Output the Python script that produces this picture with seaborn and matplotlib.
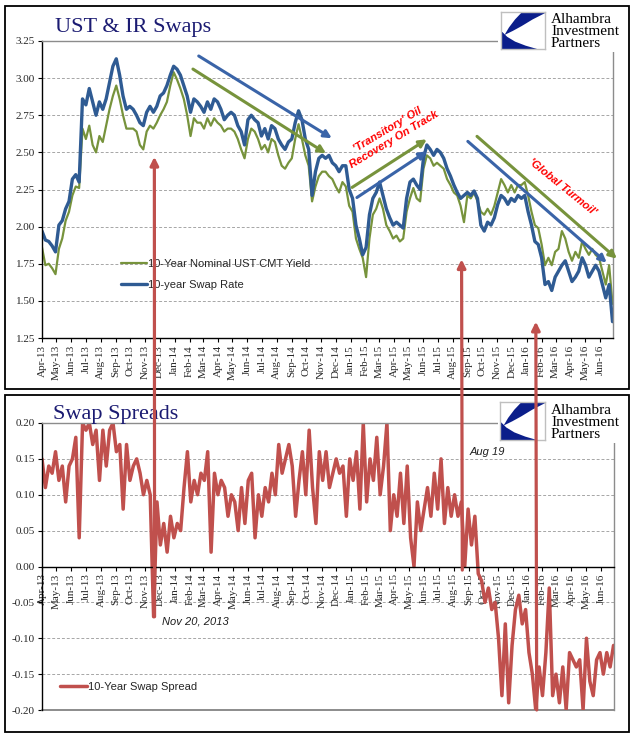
import numpy as np
import pandas as pd
import matplotlib
matplotlib.use("Agg")
import matplotlib.pyplot as plt
import matplotlib.dates as mdates
from matplotlib.patches import Rectangle, Polygon, ConnectionPatch
from matplotlib.ticker import FormatStrFormatter
import seaborn as sns

# ---------------- data (weekly readings, starting 2013-04-01) ----------------
start_date = "2013-04-01"

ust_10y = [
    1.86, 1.74, 1.75, 1.72, 1.68, 1.85, 1.92, 2.04, 2.10, 2.21,
    2.27, 2.26, 2.66, 2.59, 2.68, 2.55, 2.50, 2.61, 2.57, 2.68,
    2.79, 2.88, 2.95, 2.86, 2.75, 2.66, 2.66, 2.66, 2.64, 2.55,
    2.52, 2.64, 2.68, 2.66, 2.70, 2.75, 2.79, 2.84, 2.95, 3.04,
    2.99, 2.93, 2.86, 2.75, 2.61, 2.73, 2.70, 2.70, 2.66, 2.73,
    2.68, 2.73, 2.70, 2.68, 2.64, 2.66, 2.66, 2.64, 2.59, 2.52,
    2.46, 2.59, 2.66, 2.64, 2.59, 2.52, 2.55, 2.50, 2.59, 2.57,
    2.48, 2.41, 2.39, 2.43, 2.46, 2.59, 2.69, 2.59, 2.48, 2.41,
    2.17, 2.27, 2.34, 2.37, 2.37, 2.34, 2.32, 2.27, 2.23, 2.30,
    2.27, 2.14, 2.10, 1.92, 1.85, 1.79, 1.66, 1.92, 2.08, 2.12,
    2.19, 2.12, 2.01, 1.97, 1.92, 1.94, 1.90, 1.92, 2.10, 2.19,
    2.26, 2.19, 2.17, 2.39, 2.48, 2.46, 2.41, 2.43, 2.41, 2.39,
    2.32, 2.28, 2.23, 2.21, 2.14, 2.03, 2.21, 2.19, 2.23, 2.17,
    2.10, 2.08, 2.12, 2.08, 2.14, 2.23, 2.32, 2.28, 2.23, 2.28,
    2.23, 2.28, 2.28, 2.30, 2.21, 2.10, 2.01, 1.99, 1.88, 1.74,
    1.79, 1.74, 1.83, 1.85, 1.97, 1.92, 1.83, 1.77, 1.83, 1.79,
    1.90, 1.85, 1.81, 1.85, 1.81, 1.79, 1.70, 1.61, 1.74, 1.48,
]

swap_10y = [
    1.97, 1.91, 1.90, 1.87, 1.83, 2.01, 2.04, 2.12, 2.17, 2.32,
    2.35, 2.30, 2.86, 2.82, 2.93, 2.84, 2.75, 2.84, 2.79, 2.86,
    2.97, 3.08, 3.13, 3.02, 2.88, 2.79, 2.81, 2.79, 2.75, 2.70,
    2.68, 2.77, 2.81, 2.77, 2.81, 2.88, 2.90, 2.95, 3.02, 3.08,
    3.06, 3.02, 2.95, 2.88, 2.77, 2.86, 2.84, 2.81, 2.77, 2.84,
    2.79, 2.86, 2.84, 2.79, 2.72, 2.75, 2.77, 2.75, 2.68, 2.64,
    2.55, 2.72, 2.75, 2.72, 2.70, 2.61, 2.66, 2.59, 2.68, 2.66,
    2.59, 2.55, 2.52, 2.57, 2.59, 2.70, 2.78, 2.72, 2.59, 2.52,
    2.21, 2.37, 2.46, 2.48, 2.46, 2.48, 2.43, 2.41, 2.37, 2.41,
    2.41, 2.25, 2.19, 2.01, 1.92, 1.81, 1.86, 2.08, 2.19, 2.23,
    2.30, 2.21, 2.12, 2.06, 2.01, 2.03, 2.01, 1.99, 2.19, 2.30,
    2.32, 2.28, 2.25, 2.46, 2.55, 2.52, 2.48, 2.52, 2.50, 2.46,
    2.39, 2.34, 2.28, 2.23, 2.19, 2.21, 2.23, 2.21, 2.24, 2.19,
    2.01, 1.97, 2.03, 2.01, 2.06, 2.15, 2.21, 2.19, 2.15, 2.19,
    2.17, 2.21, 2.19, 2.21, 2.10, 2.01, 1.90, 1.88, 1.79, 1.61,
    1.63, 1.57, 1.66, 1.70, 1.74, 1.77, 1.70, 1.63, 1.66, 1.70,
    1.79, 1.74, 1.66, 1.70, 1.74, 1.70, 1.61, 1.52, 1.61, 1.36,
]

swap_spread = [
    0.15, 0.11, 0.14, 0.13, 0.16, 0.12, 0.14, 0.09, 0.14, 0.15,
    0.18, 0.04, 0.20, 0.19, 0.20, 0.17, 0.19, 0.12, 0.19, 0.14,
    0.19, 0.20, 0.16, 0.17, 0.08, 0.17, 0.12, 0.14, 0.15, 0.13,
    0.10, 0.12, 0.10, -0.07, 0.09, 0.03, 0.06, 0.02, 0.07, 0.04,
    0.06, 0.05, 0.11, 0.16, 0.09, 0.12, 0.10, 0.13, 0.12, 0.16,
    0.02, 0.13, 0.10, 0.12, 0.11, 0.07, 0.10, 0.09, 0.05, 0.11,
    0.06, 0.12, 0.13, 0.04, 0.10, 0.07, 0.11, 0.09, 0.13, 0.10,
    0.17, 0.13, 0.15, 0.17, 0.14, 0.07, 0.12, 0.16, 0.10, 0.19,
    0.11, 0.06, 0.16, 0.12, 0.16, 0.11, 0.13, 0.15, 0.13, 0.14,
    0.07, 0.15, 0.12, 0.16, 0.08, 0.20, 0.09, 0.15, 0.12, 0.18,
    0.10, 0.14, 0.20, 0.05, 0.10, 0.07, 0.13, 0.06, 0.14, 0.04,
    0.00, 0.09, 0.05, 0.08, 0.11, 0.07, 0.13, 0.08, 0.15, 0.06,
    0.11, 0.07, 0.10, 0.07, 0.09, 0.00, 0.08, 0.03, 0.07, -0.01,
    -0.02, -0.05, -0.03, -0.06, -0.05, -0.10, -0.18, -0.08, -0.19, -0.11,
    -0.06, -0.04, -0.08, -0.06, -0.12, -0.15, -0.20, -0.14, -0.18, -0.12,
    -0.03, -0.18, -0.15, -0.19, -0.14, -0.20, -0.12, -0.13, -0.14, -0.13,
    -0.20, -0.10, -0.16, -0.18, -0.13, -0.12, -0.15, -0.12, -0.14, -0.11,
]

series_labels = ["10-Year Nominal UST CMT Yield", "10-year Swap Rate"]
spread_label = "10-Year Swap Spread"
top_title = "UST & IR Swaps"
bottom_title = "Swap Spreads"
logo_lines = ["Alhambra", "Investment", "Partners"]
top_yticks = [1.25, 1.50, 1.75, 2.00, 2.25, 2.50, 2.75, 3.00, 3.25]
bottom_yticks = [-0.20, -0.15, -0.10, -0.05, 0.00, 0.05, 0.10, 0.15, 0.20]

# ---------------- styling ----------------
GREEN = "#77933C"
BLUE = "#2F5B93"
ARROW_BLUE = "#3A64A8"
RED = "#C0504D"
NAVY = "#1B1B72"
GRID = "#A6A6A6"
BORDER = "#8C8C8C"
LOGO_BLUE = "#0B1E8A"

sns.set_style("white")
plt.rcParams["font.family"] = ["Liberation Serif", "DejaVu Serif"]

W, H = 644, 741
fig = plt.figure(figsize=(W / 100, H / 100), dpi=100)
fig.patch.set_facecolor("white")


def fx(x):
    return x / W


def fy(y):
    return 1 - y / H


dates = pd.date_range(start_date, periods=len(ust_10y), freq="7D")
df = pd.DataFrame({"date": dates, "ust": ust_10y, "swap": swap_10y, "spread": swap_spread})

ax1 = fig.add_axes([fx(42), fy(338), (613 - 42) / W, (338 - 41) / H])
ax2 = fig.add_axes([fx(42), fy(710), (614 - 42) / W, (710 - 423) / H])

sns.lineplot(data=df, x="date", y="ust", ax=ax1, color=GREEN, linewidth=1.6, label=series_labels[0])
sns.lineplot(data=df, x="date", y="swap", ax=ax1, color=BLUE, linewidth=2.4, label=series_labels[1])
sns.lineplot(data=df, x="date", y="spread", ax=ax2, color=RED, linewidth=2.5, label=spread_label)

xlim = (pd.Timestamp("2013-04-01"), pd.Timestamp("2016-06-28"))

for ax in (ax1, ax2):
    ax.set_xlim(*xlim)
    ax.set_xlabel("")
    ax.set_ylabel("")
    ax.xaxis.set_major_locator(mdates.MonthLocator())
    ax.xaxis.set_major_formatter(mdates.DateFormatter("%b-%y"))
    ax.yaxis.set_major_formatter(FormatStrFormatter("%.2f"))
    ax.tick_params(axis="both", direction="out", length=3, width=0.8, color="black",
                   labelsize=8, pad=2, bottom=True, left=True)
    ax.tick_params(axis="x", labelrotation=90)
    ax.grid(False)
    ax.spines["left"].set_color("black")
    ax.spines["left"].set_linewidth(1.0)
    ax.spines["bottom"].set_color("black")
    ax.spines["bottom"].set_linewidth(1.0)
    for s in ("top", "right"):
        ax.spines[s].set_visible(True)
        ax.spines[s].set_color(BORDER)
        ax.spines[s].set_linewidth(1.0)

ax1.set_ylim(1.25, 3.25)
ax1.set_yticks(top_yticks)
for v in top_yticks[1:-1]:
    ax1.axhline(v, color=GRID, lw=0.7, ls=(0, (3, 2)), zorder=0)

ax2.set_ylim(-0.20, 0.20)
ax2.set_yticks(bottom_yticks)
for v in bottom_yticks[1:-1]:
    if v != 0:
        ax2.axhline(v, color=GRID, lw=0.7, ls=(0, (3, 2)), zorder=0)
ax2.spines["bottom"].set_position(("data", 0))
ax2.axhline(-0.20, color=BORDER, lw=1.4, clip_on=False, zorder=1)

# legends
ax1.legend(loc="upper left", bbox_to_anchor=((121 - 42) / 571, (338 - 259) / 297),
           frameon=False, prop={"family": "Liberation Sans", "size": 8},
           handlelength=2.3, handletextpad=0.1, labelspacing=0.95,
           borderpad=0, borderaxespad=0)
ax2.legend(loc="upper left", bbox_to_anchor=((60 - 42) / 572, (710 - 682) / 287),
           frameon=False, prop={"family": "Liberation Sans", "size": 8},
           handlelength=2.4, handletextpad=0.1, borderpad=0, borderaxespad=0)

# trend arrows in top panel
trend_arrows = [
    ("2014-02-20", 3.149, "2014-11-23", 2.595, ARROW_BLUE),
    ("2014-02-08", 3.061, "2014-11-11", 2.493, GREEN),
    ("2015-01-04", 2.264, "2015-06-08", 2.588, GREEN),
    ("2015-01-14", 2.196, "2015-06-08", 2.507, ARROW_BLUE),
    ("2015-09-01", 2.574, "2016-06-15", 1.757, ARROW_BLUE),
    ("2015-09-20", 2.608, "2016-07-06", 1.784, GREEN),
]
for d0, v0, d1, v1, c in trend_arrows:
    ax1.annotate("", xy=(mdates.date2num(pd.Timestamp(d1)), v1),
                 xytext=(mdates.date2num(pd.Timestamp(d0)), v0),
                 arrowprops=dict(arrowstyle="-|>", lw=2.2, color=c, mutation_scale=11,
                                 shrinkA=0, shrinkB=0),
                 annotation_clip=False, zorder=6)

fig.text(fx(391), fy(135), "'Transitory' Oil\nRecovery On Track", color="#FF0000",
         fontsize=8, fontweight="bold", fontstyle="italic", family="Liberation Sans",
         rotation=31, ha="center", va="center", rotation_mode="anchor", linespacing=1.15,
         zorder=7)
fig.text(fx(562), fy(187), "'Global Turmoil'", color="#FF0000",
         fontsize=8, fontweight="bold", fontstyle="italic", family="Liberation Sans",
         rotation=-39, ha="center", va="center", rotation_mode="anchor", zorder=7)

fig.text(fx(162), fy(622), "Nov 20, 2013", fontsize=8, fontstyle="italic",
         family="Liberation Sans", color="#1F1F1F", ha="left", va="center")
fig.text(fx(470), fy(452), "Aug 19", fontsize=8, fontstyle="italic",
         family="Liberation Sans", color="#1F1F1F", ha="left", va="center")

# titles
fig.text(fx(55), fy(32), top_title, fontsize=16, color=NAVY, family="Liberation Serif",
         ha="left", va="baseline")
fig.text(fx(53), fy(419), bottom_title, fontsize=16, color=NAVY, family="Liberation Serif",
         ha="left", va="baseline")

# panel frames
for (x0, y0, x1, y1) in [(5, 6, 629, 389), (5, 395, 629, 732)]:
    fig.add_artist(Rectangle((fx(x0), fy(y1)), (x1 - x0) / W, (y1 - y0) / H,
                             transform=fig.transFigure, fill=False, ec="black", lw=1.3,
                             zorder=8))


# logos
def draw_logo(box, square, baselines):
    bx0, by0, bx1, by1 = box
    fig.add_artist(Rectangle((fx(bx0), fy(by1)), (bx1 - bx0) / W, (by1 - by0) / H,
                             transform=fig.transFigure, fc="white", ec="none", zorder=5))
    sx0, sy0, sx1, sy1 = square
    lax = fig.add_axes([fx(sx0), fy(sy1), (sx1 - sx0) / W, (sy1 - sy0) / H], zorder=6)
    lax.set_xlim(0, 1)
    lax.set_ylim(0, 1)
    lax.set_xticks([])
    lax.set_yticks([])
    lax.set_facecolor("white")
    for s in lax.spines.values():
        s.set_visible(True)
        s.set_color("#BFBFBF")
        s.set_linewidth(1.0)
    upper = [(0.48, 1.0), (1.0, 1.0), (1.0, 0.97), (0.72, 0.8), (0.47, 0.62),
             (0.27, 0.49), (0.08, 0.38), (0.18, 0.58), (0.32, 0.8)]
    lower = [(0.0, 0.0), (0.82, 0.0), (0.56, 0.09), (0.32, 0.2), (0.14, 0.33),
             (0.03, 0.46), (0.0, 0.46)]
    lax.add_patch(Polygon(upper, closed=True, fc=LOGO_BLUE, ec="none"))
    lax.add_patch(Polygon(lower, closed=True, fc=LOGO_BLUE, ec="none"))
    for txt, b in zip(logo_lines, baselines):
        fig.text(fx(551), fy(b), txt, fontsize=11, family="Liberation Serif",
                 color="black", ha="left", va="baseline", zorder=7)


draw_logo((498, 8, 622, 52), (501, 12, 545, 49), [23, 35, 47])
draw_logo((498, 398, 622, 443), (500, 402, 545, 440), [414, 426, 438])

# red connector arrows spanning the two panels
connectors = [
    ("2013-11-20", -0.07, 2.47),
    ("2015-08-19", -0.005, 1.78),
    ("2016-01-20", -0.20, 1.36),
]
for d, yb, yt in connectors:
    xn = mdates.date2num(pd.Timestamp(d))
    con = ConnectionPatch(xyA=(xn, yb), coordsA=ax2.transData,
                          xyB=(xn, yt), coordsB=ax1.transData,
                          arrowstyle="-|>", mutation_scale=12, lw=2.3, color=RED,
                          shrinkA=0, shrinkB=0, zorder=10)
    fig.add_artist(con)

fig.savefig("out.png", dpi=100, facecolor="white")
